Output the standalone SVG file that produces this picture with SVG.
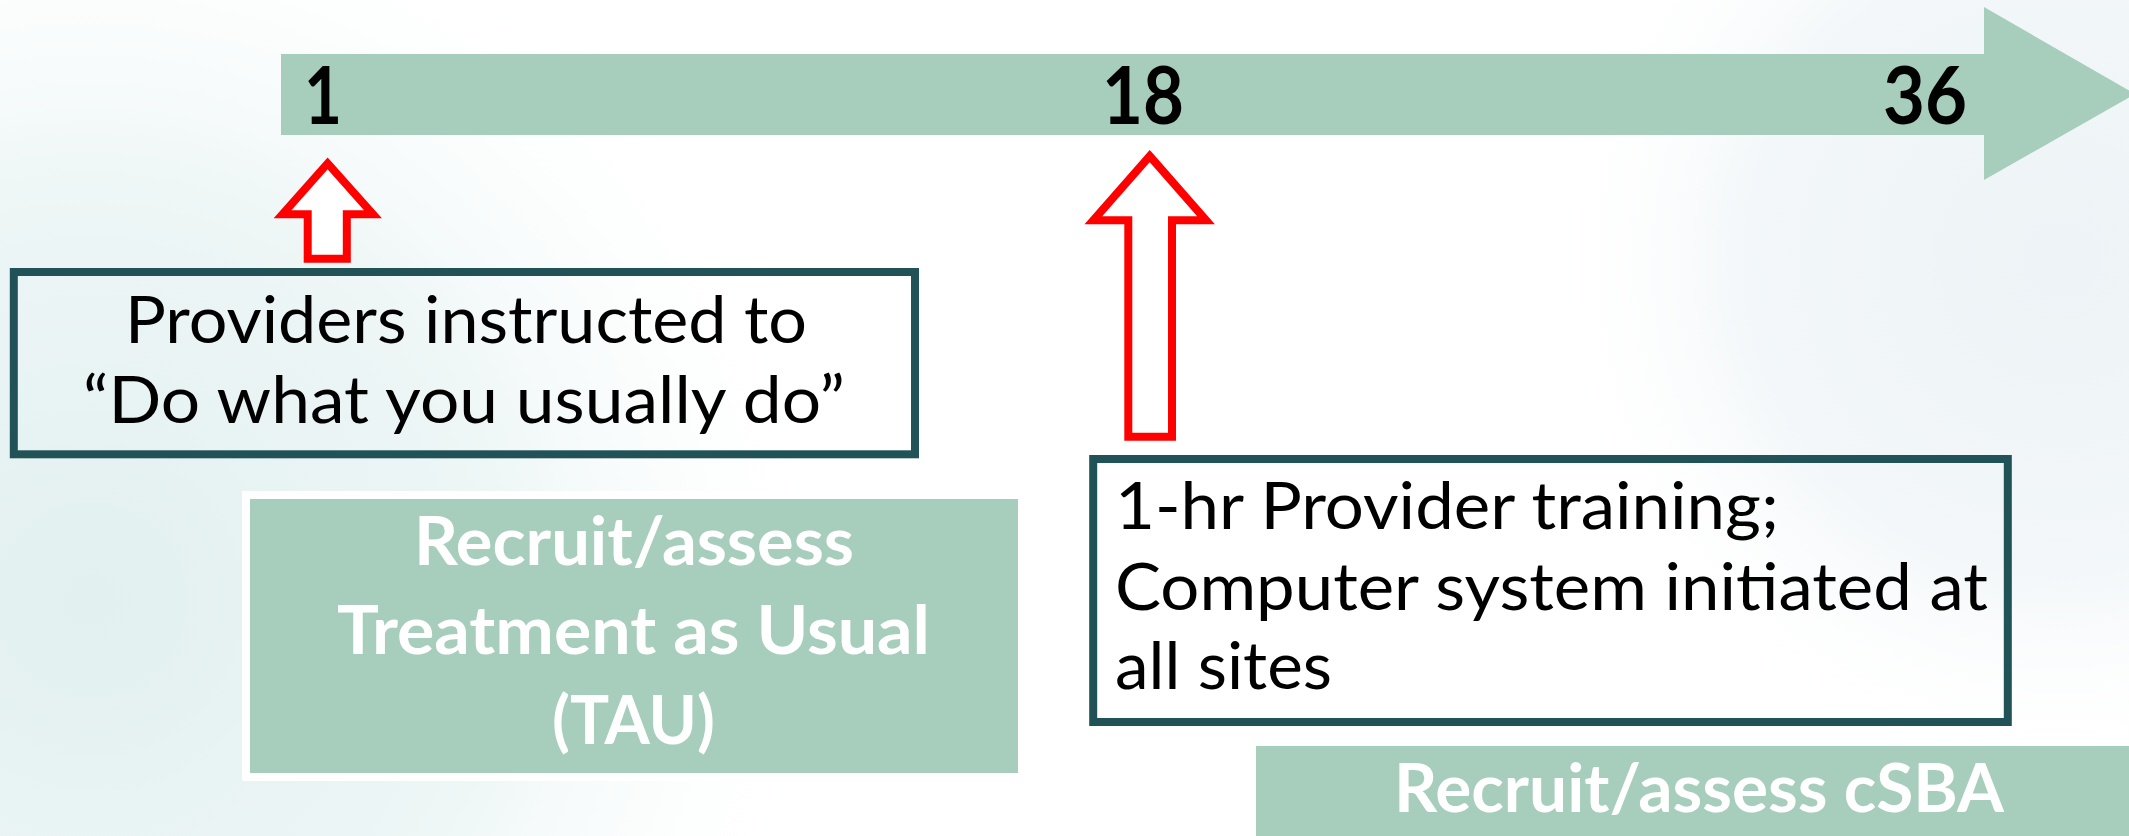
<svg xmlns="http://www.w3.org/2000/svg" width="2129" height="836" viewBox="0 0 2129 836">
  <defs>
    <radialGradient id="hazeLeft" cx="90" cy="600" r="760" gradientUnits="userSpaceOnUse">
      <stop offset="0" stop-color="#e2f0f0"/>
      <stop offset="0.55" stop-color="#eef6f6"/>
      <stop offset="1" stop-color="#ffffff" stop-opacity="0"/>
    </radialGradient>
    <radialGradient id="hazeRight" cx="2060" cy="260" r="520" gradientUnits="userSpaceOnUse">
      <stop offset="0" stop-color="#edf3f6"/>
      <stop offset="0.6" stop-color="#f3f7f9"/>
      <stop offset="1" stop-color="#ffffff" stop-opacity="0"/>
    </radialGradient>
    <style>
      .bar { fill: #a7cdbc; }
      .num { font-family: Lato, "Liberation Sans", sans-serif; font-weight: 700; font-size: 80px; fill: #000000; }
      .note { fill: none; stroke: #215257; stroke-width: 8; }
      .noteText { font-family: Lato, "Liberation Sans", sans-serif; font-size: 66px; fill: #000000; }
      .phase { font-family: Lato, "Liberation Sans", sans-serif; font-weight: 700; font-size: 66px; fill: #ffffff; }
      .pointer { fill: #ffffff; stroke: #ff0000; stroke-width: 8; stroke-linejoin: miter; }
    </style>
  </defs>

  <!-- background -->
  <rect x="0" y="0" width="2129" height="836" fill="#ffffff"/>
  <rect x="0" y="0" width="2129" height="836" fill="url(#hazeLeft)"/>
  <rect x="0" y="0" width="2129" height="836" fill="url(#hazeRight)"/>

  <!-- timeline arrow with month marks -->
  <g id="timeline">
    <polygon class="bar" points="281,54 1984,54 1984,7 2135,94 1984,180 1984,135 281,135"/>
    <text class="num" x="304" y="124" textLength="38" lengthAdjust="spacingAndGlyphs">1</text>
    <text class="num" x="1102" y="124" textLength="82" lengthAdjust="spacingAndGlyphs">18</text>
    <text class="num" x="1883" y="124" textLength="84" lengthAdjust="spacingAndGlyphs">36</text>
  </g>

  <!-- pointers from the notes up to the timeline -->
  <g id="connectors">
    <polygon class="pointer" points="327.6,163.4 373,214.3 346.8,214.3 346.8,258.7 307.7,258.7 307.7,214.3 282.5,214.3"/>
    <polygon class="pointer" points="1149.7,156 1206.1,220.3 1172,220.3 1172,436.7 1128.3,436.7 1128.3,220.3 1093.3,220.3"/>
  </g>

  <!-- note at month 1 -->
  <g id="note-month1">
    <rect class="note" x="13.8" y="272" width="901.2" height="182.3"/>
    <text class="noteText" x="125" y="343" textLength="682" lengthAdjust="spacingAndGlyphs">Providers instructed to</text>
    <text class="noteText" x="83" y="423" textLength="762" lengthAdjust="spacingAndGlyphs">“Do what you usually do”</text>
  </g>

  <!-- TAU phase -->
  <g id="phase-tau">
    <rect class="bar" x="246" y="495" width="776" height="282" stroke="#ffffff" stroke-width="8"/>
    <text class="phase" x="414" y="565" textLength="440" lengthAdjust="spacingAndGlyphs">Recruit/assess</text>
    <text class="phase" x="337" y="654" textLength="593" lengthAdjust="spacingAndGlyphs">Treatment as Usual</text>
    <text class="phase" x="552" y="744" textLength="163" lengthAdjust="spacingAndGlyphs">(TAU)</text>
  </g>

  <!-- note at month 18 -->
  <g id="note-month18">
    <rect class="note" x="1093.2" y="459" width="914.6" height="263"/>
    <text class="noteText" x="1115" y="529" textLength="664" lengthAdjust="spacingAndGlyphs">1-hr Provider training;</text>
    <text class="noteText" x="1115" y="610" textLength="873" lengthAdjust="spacingAndGlyphs">Computer system initiated at</text>
    <text class="noteText" x="1115" y="689" textLength="217" lengthAdjust="spacingAndGlyphs">all sites</text>
  </g>

  <!-- cSBA phase -->
  <g id="phase-csba">
    <rect class="bar" x="1256" y="746" width="890" height="100"/>
    <text class="phase" x="1394" y="812" textLength="610" lengthAdjust="spacingAndGlyphs">Recruit/assess cSBA</text>
  </g>
</svg>
